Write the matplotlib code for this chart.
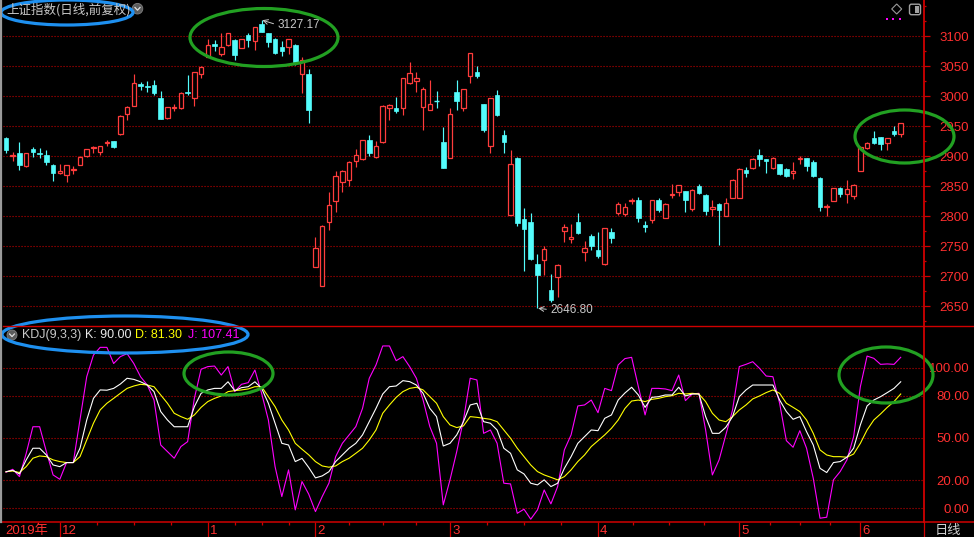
import matplotlib
matplotlib.use('Agg')
import matplotlib.pyplot as plt
import matplotlib.transforms as mtrans
from matplotlib.patches import Rectangle, Ellipse, Circle, Polygon, FancyBboxPatch
from matplotlib.ticker import MultipleLocator, FixedLocator
import numpy as np

plt.rcParams['font.family'] = ['Liberation Sans', 'Noto Sans CJK SC', 'DejaVu Sans']

# ---------------- data (SSE Composite, 2019-11-20 .. 2020-06-09) ----------------
open_ = [2930,2901,2905,2884,2912,2906,2902,2886,
         2873,2869,2877,2886,2900,2914,2907,2922,2925,2937,2970,2984,3020,3018,3019,2998,2964,2980,2980,3008,2998,3037,
         3065,3088,3071,3085,3094,3081,3102,3092,3120,3105,3096,3082,3083,3086,3038,3037,
         2716,2684,2791,2826,2858,2860,2893,2895,2927,2899,2924,2981,2980,2981,3022,3026,2982,2978,2992,2924,
         2898,3007,2981,3034,3040,2987,2918,3002,2936,2803,2898,2795,2791,2720,2727,2677,2699,2775,2762,2791,2741,2767,
         2744,2720,2774,2806,2804,2825,2827,2785,2794,2827,2798,2835,2840,2842,2812,2851,2836,2812,2821,2801,2831,
         2831,2878,2880,2902,2895,2880,2887,2879,2872,2896,2897,2891,2864,2815,2826,2847,2838,2834,
         2876,2914,2930,2932,2923,2942,2938]
high = [2932,2907,2924,2906,2916,2914,2910,2887,
        2887,2885,2884,2900,2913,2918,2918,2927,2926,2969,2984,3037,3024,3025,3028,3009,2983,2988,3007,3036,3041,3050,
        3096,3094,3105,3106,3095,3096,3105,3116,3127.17,3106,3097,3092,3096,3087,3066,3045,
        2766,2785,2840,2876,2877,2892,2912,2928,2935,2925,2985,2988,2999,3031,3058,3041,3015,3027,3009,2949,
        2981,3027,3013,3073,3051,2988,2998,3010,2944,2910,2899,2814,2806,2737,2751,2704,2720,2787,2787,2805,2759,2771,
        2774,2781,2780,2824,2823,2831,2832,2792,2828,2831,2822,2854,2853,2843,2845,2854,2837,2827,2823,2830,2862,
        2880,2883,2897,2913,2896,2899,2888,2881,2890,2900,2898,2894,2866,2820,2848,2849,2860,2854,
        2917,2924,2942,2933,2931,2950,2956]
low = [2906,2893,2877,2882,2899,2897,2886,2859,
       2871,2858,2870,2885,2899,2905,2902,2918,2914,2935,2960,2984,3011,3007,3002,2962,2963,2975,2979,3002,2984,3031,
       3065,3076,3068,3084,3060,3080,3082,3077,3107,3082,3070,3068,3071,3052,3006,2956,
       2716,2684,2778,2808,2840,2851,2883,2894,2900,2898,2923,2961,2972,2969,3021,3008,2944,2977,2981,2880,
       2897,2978,2975,3023,3030,2941,2906,2968,2906,2802,2784,2709,2727,2646.8,2703,2658,2665,2758,2756,2771,2725,2744,
       2731,2719,2755,2803,2801,2820,2791,2774,2789,2807,2797,2831,2834,2808,2809,2837,2803,2800,2752,2800,2830,
       2830,2865,2879,2884,2872,2879,2869,2865,2862,2888,2876,2866,2809,2801,2825,2833,2822,2829,
       2875,2913,2921,2911,2910,2934,2933]
close = [2911,2903,2886,2905,2907,2904,2891,2873,
         2875,2885,2879,2899,2912,2916,2917,2924,2916,2968,2983,3022,3017,3016,3006,2963,2982,2982,3006,3005,3040,3049,
         3086,3084,3083,3105,3069,3095,3094,3115,3108,3091,3073,3076,3095,3058,3061,2978,
         2747,2784,2819,2867,2876,2891,2902,2927,2906,2917,2984,2986,2976,3030,3039,3030,3013,2987,2991,2881,
         2970,2993,3012,3072,3034,2944,2997,2969,2924,2887,2789,2779,2729,2703,2746,2661,2719,2782,2766,2772,2748,2751,
         2734,2780,2764,2821,2815,2827,2798,2783,2827,2811,2821,2838,2852,2827,2844,2839,2809,2815,2811,2823,2861,
         2879,2873,2895,2896,2893,2898,2870,2868,2876,2898,2884,2867,2816,2817,2847,2837,2845,2852,
         2916,2922,2923,2921,2930,2937,2955]

K = [26,27,24.4,34.4,42.7,42.7,37.9,30.8,29.6,32.5,32.5,42.7,62.8,78.2,84.2,84,85.3,88.4,92.5,91.7,90,87.7,83,68.8,
     62.8,58,58,58,72.3,81.8,84.2,85.3,85.3,90,83.7,85.8,86.5,90,85.3,74.7,60.5,46.2,45,33.2,
     35.5,29,21.6,23,26,33.2,37.9,42.7,46.2,52.2,61.6,71.1,81.3,86.5,87,90.8,90.1,87.7,81.8,71.1,65.2,44.3,46.2,52.2,
     61.6,73.5,74.7,61.6,60.5,55.7,42.7,39.1,27.3,24.4,17.8,16.6,20.2,15.4,17.8,28.4,36.7,46.2,51,55.7,55.2,64,66.4,77,
     82,86.1,80.6,71.8,78.9,79.4,80.6,80.6,86.1,79.9,81.3,81.3,65.2,53.3,53.3,57.6,65.2,79.4,84.2,87.7,87.7,87.7,87.7,
     77,68.8,63.3,65.2,54.5,45,28.4,25.4,32.5,33.2,36.3,42.7,59.3,72.8,77,79.4,82.3,85.3,90.00]
D = [26,26.5,25.4,29.6,35.6,37.2,36.7,34.4,33.2,32.5,32.5,36.7,48.6,60.5,70,74.7,78.2,81.8,85.3,87,88.2,87.7,86.5,80.6,
     74.7,67.6,65.2,63.3,66.4,71.8,75.9,78.2,79.9,83,83.7,84.2,84.9,86.5,86.5,79.4,72.3,62.8,55.7,46.2,
     42,38,33.2,30.1,29.2,30.1,33.2,35.6,39.1,42.7,48.6,55.7,67.6,73.5,78.9,83,85.3,86.1,84.2,79.4,74.7,65.2,59.3,57.4,
     58.6,65.2,64.7,64,63.3,61.6,55.7,49.8,42.7,36.7,30.8,26.1,23.7,22,20.2,22.5,27.3,33.2,37.9,43.9,48.1,52.2,56.9,62.8,
     71,76.3,77,75.9,77.5,78.2,79.4,80.1,81.8,81.3,81.8,81.3,75.9,67.6,62.8,61.6,65.2,69.9,73.5,77.8,79.9,82.3,84.2,
     81.8,74.7,71.8,68.8,62.8,53.3,41.5,37.9,36.7,36.7,36.3,38.6,46.2,55.7,62.8,67.1,71.8,75.9,81.30]
J = [25.6,27.7,22.5,39,58,58,40.3,23.7,20.6,32.5,32.5,62.8,93.6,109,114.5,114.5,103,107.9,110,103,93.6,87.7,77,45,
     40.3,35.6,43.9,47.4,78.2,98.9,100.8,101.2,94.8,100.8,83,88.2,89.4,98.4,81.8,62.8,29.6,8.3,27.3,-1.2,
     19,10,-2.4,8.3,17.8,36.7,46.2,52.2,58.1,71.1,92.5,102,115.5,115.5,105,107.9,100.8,92.5,77,58.1,46.2,2.4,20.2,40.3,
     62.8,92.5,91.3,53.3,55.7,46.2,17.8,17.3,-3.6,-0.7,-7.8,-1.2,13,3.1,15.4,41.5,52.2,72.8,73.5,77,68,85.3,83.7,102,
     106.5,107.4,86.5,66.4,85.3,85.3,84.9,83.7,94.8,76.6,81.3,81.8,55.7,23.7,34.4,52.2,69.9,100.8,102.4,104.3,99.6,
     94.1,93.6,74.7,48.1,43.4,55.2,42.7,21.3,-7.1,-6.4,20.2,26.1,34.4,51,86.5,108.3,106.7,102.4,102.7,102.4,107.41]

month_labels = ['12', '1', '2', '3', '4', '5', '6']
month_start_idx = [8, 30, 46, 66, 88, 109, 127]
year_label = '2019年'
price_ticks = [2650, 2700, 2750, 2800, 2850, 2900, 2950, 3000, 3050, 3100]
kdj_ticks = [0, 20, 50, 80, 100]
title = '上证指数(日线,前复权)'
kdj_name = 'KDJ(9,3,3)'

# ---------------- figure ----------------
W, H = 974, 537
fig = plt.figure(figsize=(W / 100, H / 100), dpi=100, facecolor='black')

def px_rect(x0, y0, x1, y1):
    return [x0 / W, 1 - y1 / H, (x1 - x0) / W, (y1 - y0) / H]

RED = '#ff3030'
GRID = '#c40000'
FRAME = '#d00000'
UP = '#ff3c3c'
DN = '#54fcfc'

ax_p = fig.add_axes(px_rect(3, 0, 924, 326))
ax_k = fig.add_axes(px_rect(3, 326, 924, 522))
XLIM = (-0.446, 136.46)
for ax in (ax_p, ax_k):
    ax.set_facecolor('black')
    for s in ax.spines.values():
        s.set_visible(False)
    ax.set_xlim(*XLIM)

# ---- candles ----
n = len(close)
bw = 0.68
for i in range(n):
    o, h, l, c = open_[i], high[i], low[i], close[i]
    if c >= o:
        col = UP
        top, bot = c, o
        if top - bot < 1.5:
            ax_p.vlines(i, l, h, color=col, lw=0.85, zorder=3)
            ax_p.hlines((top + bot) / 2, i - bw / 2, i + bw / 2, color=col, lw=1.0, zorder=3)
        else:
            ax_p.vlines(i, top, h, color=col, lw=0.85, zorder=3)
            ax_p.vlines(i, l, bot, color=col, lw=0.85, zorder=3)
            ax_p.add_patch(Rectangle((i - bw / 2, bot), bw, top - bot, facecolor='black',
                                     edgecolor=col, lw=0.9, zorder=3))
    else:
        col = DN
        ax_p.vlines(i, l, h, color=col, lw=0.85, zorder=3)
        if o - c < 1.5:
            ax_p.hlines((o + c) / 2, i - bw / 2, i + bw / 2, color=col, lw=1.0, zorder=3)
        else:
            ax_p.add_patch(Rectangle((i - bw / 2, c), bw, o - c, facecolor=col,
                                     edgecolor=col, lw=0.5, zorder=3))

ax_p.set_ylim(2617.2, 3160.5)
for v in price_ticks:
    ax_p.axhline(v, color=GRID, lw=0.8, ls=(0, (1, 1.7)), zorder=1)

ax_p.yaxis.tick_right()
ax_p.set_yticks(price_ticks)
ax_p.set_yticklabels([str(v) for v in price_ticks])
ax_p.yaxis.set_minor_locator(MultipleLocator(25))
ax_p.tick_params(axis='y', which='major', direction='out', length=4.0, width=0.9, color=FRAME,
                 labelcolor=RED, labelsize=9.5, pad=28.4, right=True, left=False,
                 labelright=True, labelleft=False)
ax_p.tick_params(axis='y', which='minor', direction='out', length=1.7, width=0.9, color=FRAME,
                 right=True, left=False)
ax_p.tick_params(axis='x', which='both', bottom=False, labelbottom=False)
for t in ax_p.get_yticklabels():
    t.set_ha('right')

# max / min annotations
imax = int(np.argmax(high))
imin = int(np.argmin(low))
ax_p.annotate(f'{high[imax]:.2f}', xy=(imax, high[imax]), xytext=(16, -5),
              textcoords='offset pixels', color='#c8c8c8', fontsize=8.5, va='center', ha='left',
              arrowprops=dict(arrowstyle='->', color='#c8c8c8', lw=0.7, shrinkA=1, shrinkB=0.5,
                              relpos=(0, 0.5)), zorder=6)
ax_p.annotate(f'{low[imin]:.2f}', xy=(imin, low[imin]), xytext=(13, -1.5),
              textcoords='offset pixels', color='#c8c8c8', fontsize=8.5, va='center', ha='left',
              arrowprops=dict(arrowstyle='->', color='#c8c8c8', lw=0.7, shrinkA=1, shrinkB=0.5,
                              relpos=(0, 0.5)), zorder=6)

# ---- KDJ ----
xs = np.arange(n)
ax_k.plot(xs, J, color='#ff00ff', lw=0.8, zorder=3)
ax_k.plot(xs, D, color='#ffff00', lw=0.8, zorder=4)
ax_k.plot(xs, K, color='#ffffff', lw=0.8, zorder=5)
ax_k.set_ylim(-9.8, 129.7)
for v in kdj_ticks:
    ax_k.axhline(v, color=GRID, lw=0.8, ls=(0, (1, 1.7)), zorder=1)
ax_k.yaxis.tick_right()
ax_k.set_yticks(kdj_ticks)
ax_k.set_yticklabels([f'{v:.2f}' for v in kdj_ticks])
ax_k.tick_params(axis='y', which='both', length=0, labelcolor=RED, labelsize=9.5,
                 pad=32.5, right=True, left=False, labelright=True, labelleft=False)
for t in ax_k.get_yticklabels():
    t.set_ha('right')

# x axis: month ticks and quarter ticks
minor_pos = []
for a, b in zip(month_start_idx[:-1], month_start_idx[1:]):
    for k in (1, 2, 3):
        minor_pos.append(a + (b - a) * k / 4)
ax_k.xaxis.set_major_locator(FixedLocator(month_start_idx))
ax_k.xaxis.set_minor_locator(FixedLocator(minor_pos))
ax_k.tick_params(axis='x', which='major', direction='out', length=11.0, width=0.9, color=FRAME,
                 labelbottom=False)
ax_k.tick_params(axis='x', which='minor', direction='out', length=1.8, width=0.9, color=FRAME)
btrans = mtrans.blended_transform_factory(ax_k.transData, ax_k.transAxes)
for lab, idx in zip(month_labels, month_start_idx):
    ax_k.text(idx + 0.3, -0.045, lab, transform=btrans, color=RED, fontsize=9.5,
              va='center', ha='left', clip_on=False)
ax_k.text(0.003, -0.045, year_label, transform=ax_k.transAxes, color=RED, fontsize=9.5,
          va='center', ha='left', clip_on=False, family=['Liberation Sans', 'Noto Sans CJK SC'])

# ---------------- overlay (frame, headers, annotations) ----------------
ov = fig.add_axes([0, 0, 1, 1], zorder=10)
ov.set_xlim(0, W)
ov.set_ylim(H, 0)
ov.axis('off')

ov.plot([3, W], [326, 326], color=FRAME, lw=1.0)
ov.plot([0, W], [522, 522], color=FRAME, lw=1.1)
ov.plot([924.3, 924.3], [0, 522], color=FRAME, lw=1.3)
ov.plot([924.3, 924.3], [522, H], color=FRAME, lw=0.9)
ov.plot([1, 1], [0, 522], color='#9a9a9a', lw=1.6)

# title and icon
ov.text(6, 10, title, color='#c8c8c8', fontsize=9, va='center', ha='left',
        family=['Noto Sans CJK SC', 'DejaVu Sans'])
ov.add_patch(Circle((137.5, 8.7), 5.3, facecolor='#5c5c5c', edgecolor='#808080', lw=0.6))
ov.plot([135, 137.5, 140], [7.5, 10.2, 7.5], color='#e0e0e0', lw=0.9)

# KDJ header
ov.add_patch(Circle((12, 335), 5.0, facecolor='#5c5c5c', edgecolor='#808080', lw=0.6))
ov.plot([9.6, 12, 14.4], [334, 336.6, 334], color='#e0e0e0', lw=0.9)
ov.text(22, 335, kdj_name, color='#c8c8c8', fontsize=9, va='center', ha='left')
ov.text(85, 335, f'K: {K[-1]:.2f}', color='#e8e8e8', fontsize=9, va='center', ha='left')
ov.text(135, 335, f'D: {D[-1]:.2f}', color='#ffff00', fontsize=9, va='center', ha='left')
ov.text(188, 335, f'J: {J[-1]:.2f}', color='#ff00ff', fontsize=9, va='center', ha='left')

# top-right icons
ov.add_patch(Polygon([[896.7, 4], [901.7, 9], [896.7, 14], [891.7, 9]], closed=True,
                     facecolor='none', edgecolor='#9a9a9a', lw=0.8))
ov.add_patch(FancyBboxPatch((909.5, 4.2), 11, 10.5, boxstyle='round,pad=0,rounding_size=2',
                            facecolor='none', edgecolor='#a0a0a0', lw=1.0))
ov.add_patch(Rectangle((915.2, 6.2), 3.3, 6.5, facecolor='#a0a0a0', edgecolor='none'))
for dx in (886.7, 893.3, 900.0):
    ov.add_patch(Rectangle((dx - 1, 18), 2, 2, facecolor='#ff00ff', edgecolor='none'))

# date row right label
ov.text(935, 530.5, '日线', color='#d0d0d0', fontsize=9.5, va='center', ha='left',
        family=['Noto Sans CJK SC', 'DejaVu Sans'])

# highlight ellipses
BLUE = '#1e90f0'
GREEN = '#22a022'
for (cx, cy, w, h, col) in [
        (67, 12.5, 132, 25, BLUE),
        (264, 37.5, 148, 58, GREEN),
        (904.5, 136.5, 99, 53, GREEN),
        (125, 334.5, 246, 37, BLUE),
        (228.5, 373.5, 89, 43, GREEN),
        (886, 375, 94, 56, GREEN)]:
    ov.add_patch(Ellipse((cx, cy), w, h, facecolor='none', edgecolor=col, lw=2.3))

fig.savefig('out.png', dpi=100, facecolor='black')
